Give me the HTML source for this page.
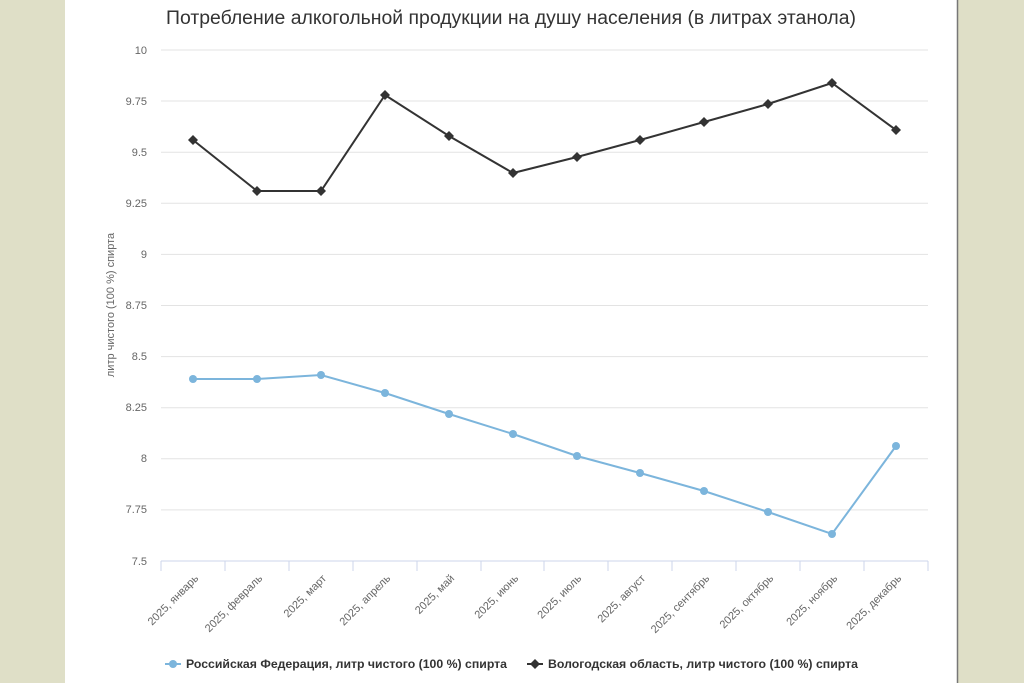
<!DOCTYPE html><html><head><meta charset="utf-8"><style>body{margin:0;background:#dfdfc7;}svg{display:block}</style></head><body>
<svg width="1024" height="683" xmlns="http://www.w3.org/2000/svg" font-family="Liberation Sans, DejaVu Sans, sans-serif">
<rect width="1024" height="683" fill="#dfdfc7"/>
<rect x="65" y="0" width="892" height="683" fill="#fff"/>
<line x1="957.5" y1="0" x2="957.5" y2="683" stroke="#777" stroke-width="1.5"/>
<text x="511" y="24" text-anchor="middle" font-size="19" fill="#333" textLength="690" lengthAdjust="spacingAndGlyphs">Потребление алкогольной продукции на душу населения (в литрах этанола)</text>
<g stroke="#e3e3e3" stroke-width="1">
<line x1="161" x2="928" y1="50" y2="50"/><line x1="161" x2="928" y1="101" y2="101"/><line x1="161" x2="928" y1="152.2" y2="152.2"/><line x1="161" x2="928" y1="203.3" y2="203.3"/><line x1="161" x2="928" y1="254.4" y2="254.4"/><line x1="161" x2="928" y1="305.5" y2="305.5"/><line x1="161" x2="928" y1="356.6" y2="356.6"/><line x1="161" x2="928" y1="407.7" y2="407.7"/><line x1="161" x2="928" y1="458.8" y2="458.8"/><line x1="161" x2="928" y1="509.9" y2="509.9"/>
</g>
<line x1="161" x2="928" y1="561" y2="561" stroke="#ccd6eb"/>
<g stroke="#ccd6eb"><line x1="161" x2="161" y1="561" y2="571"/><line x1="225" x2="225" y1="561" y2="571"/><line x1="289" x2="289" y1="561" y2="571"/><line x1="353" x2="353" y1="561" y2="571"/><line x1="417" x2="417" y1="561" y2="571"/><line x1="481" x2="481" y1="561" y2="571"/><line x1="544" x2="544" y1="561" y2="571"/><line x1="608" x2="608" y1="561" y2="571"/><line x1="672" x2="672" y1="561" y2="571"/><line x1="736" x2="736" y1="561" y2="571"/><line x1="800" x2="800" y1="561" y2="571"/><line x1="864" x2="864" y1="561" y2="571"/><line x1="928" x2="928" y1="561" y2="571"/></g>
<g font-size="11" fill="#666" text-anchor="end">
<text x="147" y="54">10</text><text x="147" y="105">9.75</text><text x="147" y="156">9.5</text><text x="147" y="207">9.25</text><text x="147" y="258">9</text><text x="147" y="309">8.75</text><text x="147" y="360">8.5</text><text x="147" y="411">8.25</text><text x="147" y="462">8</text><text x="147" y="513">7.75</text><text x="147" y="565">7.5</text>
</g>
<text transform="translate(114,305) rotate(-90)" text-anchor="middle" font-size="11" fill="#666">литр чистого (100 %) спирта</text>
<g font-size="11" fill="#666" text-anchor="end">
<text transform="translate(199,579) rotate(-45)">2025, январь</text>
<text transform="translate(263,579) rotate(-45)">2025, февраль</text>
<text transform="translate(327,579) rotate(-45)">2025, март</text>
<text transform="translate(391,579) rotate(-45)">2025, апрель</text>
<text transform="translate(455,579) rotate(-45)">2025, май</text>
<text transform="translate(519,579) rotate(-45)">2025, июнь</text>
<text transform="translate(582,579) rotate(-45)">2025, июль</text>
<text transform="translate(646,579) rotate(-45)">2025, август</text>
<text transform="translate(710,579) rotate(-45)">2025, сентябрь</text>
<text transform="translate(774,579) rotate(-45)">2025, октябрь</text>
<text transform="translate(838,579) rotate(-45)">2025, ноябрь</text>
<text transform="translate(902,579) rotate(-45)">2025, декабрь</text>
</g>
<polyline fill="none" stroke="#333" stroke-width="2" points="193,140 257,191 321,191 385,95 449,136 513,173 577,157 640,140 704,122 768,104 832,83 896,130"/>
<g fill="#333">
<path d="M193,135l5,5-5,5-5-5z"/><path d="M257,186l5,5-5,5-5-5z"/><path d="M321,186l5,5-5,5-5-5z"/><path d="M385,90l5,5-5,5-5-5z"/><path d="M449,131l5,5-5,5-5-5z"/><path d="M513,168l5,5-5,5-5-5z"/><path d="M577,152l5,5-5,5-5-5z"/><path d="M640,135l5,5-5,5-5-5z"/><path d="M704,117l5,5-5,5-5-5z"/><path d="M768,99l5,5-5,5-5-5z"/><path d="M832,78l5,5-5,5-5-5z"/><path d="M896,125l5,5-5,5-5-5z"/>
</g>
<polyline fill="none" stroke="#7cb5dc" stroke-width="2" points="193,379 257,379 321,375 385,393 449,414 513,434 577,456 640,473 704,491 768,512 832,534 896,446"/>
<g fill="#7cb5dc">
<circle cx="193" cy="379" r="4"/><circle cx="257" cy="379" r="4"/><circle cx="321" cy="375" r="4"/><circle cx="385" cy="393" r="4"/><circle cx="449" cy="414" r="4"/><circle cx="513" cy="434" r="4"/><circle cx="577" cy="456" r="4"/><circle cx="640" cy="473" r="4"/><circle cx="704" cy="491" r="4"/><circle cx="768" cy="512" r="4"/><circle cx="832" cy="534" r="4"/><circle cx="896" cy="446" r="4"/>
</g>
<line x1="165" x2="181" y1="664" y2="664" stroke="#7cb5dc" stroke-width="2"/><circle cx="173" cy="664" r="4" fill="#7cb5dc"/>
<text x="186" y="668" font-size="12" font-weight="bold" fill="#333" textLength="321" lengthAdjust="spacingAndGlyphs">Российская Федерация, литр чистого (100 %) спирта</text>
<line x1="527" x2="543" y1="664" y2="664" stroke="#333" stroke-width="2"/><path d="M535,659l5,5-5,5-5-5z" fill="#333"/>
<text x="548" y="668" font-size="12" font-weight="bold" fill="#333" textLength="310" lengthAdjust="spacingAndGlyphs">Вологодская область, литр чистого (100 %) спирта</text>
</svg></body></html>
